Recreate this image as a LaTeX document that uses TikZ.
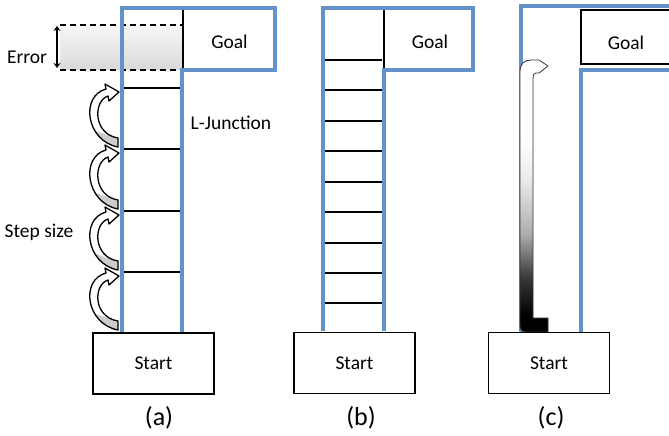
\documentclass[tikz,border=0pt]{standalone}
\usepackage{fontspec}
\setmainfont{Carlito}
\usetikzlibrary{arrows.meta}
\definecolor{corr}{RGB}{98,146,200}
\pgfdeclareverticalshading{fadebar}{100bp}{color(0bp)=(black); color(28bp)=(black); color(35bp)=(black!78); color(43bp)=(black!32); color(53bp)=(black!8); color(60bp)=(white); color(100bp)=(white)}
\newcommand\steparrow[2]{%
  \begin{scope}
    \clip (118,#2-2) .. controls (86,#2-8) and (80,#1+8) .. (106,#1+1) -- (105,#1-4) -- (119,#1+4) -- (109,#1+13) -- (108,#1+8) .. controls (93,#1+13) and (93,#2-15) .. (118,#2-11) -- cycle;
    \fill[white] (70,#1-10) rectangle (125,#2+5);
    \fill[gray!40] (75,#2+5) -- (75,#2-28) .. controls (95,#2-18) and (108,#2-12) .. (125,#2-11) -- (125,#2+5) -- cycle;
  \end{scope}
  \draw[arrowline] (118,#2-2) .. controls (86,#2-8) and (80,#1+8) .. (106,#1+1) -- (105,#1-4) -- (119,#1+4) -- (109,#1+13) -- (108,#1+8) .. controls (93,#1+13) and (93,#2-15) .. (118,#2-11) -- cycle;
}
\begin{document}
\begin{tikzpicture}[x=1pt,y=-1pt,
  corridor/.style={draw=corr,line width=4pt},
  rung/.style={draw=black,line width=1.4pt},
  boxline/.style={draw=black,line width=1.4pt},
  arrowline/.style={draw=black,line width=1.3pt,line join=round},
  startbox/.style={draw=black,line width=1.4pt,fill=white,minimum width=121pt,minimum height=61pt,inner sep=0pt,font=\fontsize{19.5}{23}\selectfont},
  lbl/.style={inner sep=0pt,font=\fontsize{19.5}{23}\selectfont},
  captext/.style={inner sep=0pt,font=\fontsize{26}{31}\selectfont}]
\useasboundingbox (0,0) rectangle (669,436);

% ---------------- panel (a) ----------------
\shade[top color=gray!6,bottom color=gray!30] (60,25) rectangle (183,70);
\draw[boxline,line width=1.6pt,dash pattern=on 6pt off 4pt] (60,25) -- (183,25);
\draw[boxline,line width=1.6pt,dash pattern=on 6pt off 4pt] (60,70) -- (183,70);
\draw[boxline] (183,9) -- (183,70);
\coordinate (errT) at (57,26);
\coordinate (errB) at (57,68);
\draw[line width=2.6pt,{Stealth[length=5pt,width=7pt]}-{Stealth[length=5pt,width=7pt]}] (errT) -- (errB);
\foreach \y in {88,149,211,272} \draw[rung] (124,\y) -- (181,\y);
\steparrow{272}{332}
\steparrow{211}{272}
\steparrow{149}{211}
\steparrow{88}{149}
\draw[corridor] (122,332) -- (122,8) -- (275,8) -- (275,70) -- (182,70) -- (182,332);
\node[startbox] (starta) at (153.5,363.5) {Start};
\node[lbl] (goala) at (229.5,42) {Goal};
\node[lbl] (error) at (27,57) {Error};
\node[lbl] (ljunc) at (231,123) {L-Junction};
\node[lbl] (stepsize) at (39,232) {Step size};
\node[captext] (capa) at (159,418) {(a)};

% ---------------- panel (b) ----------------
\draw[boxline] (384,9) -- (384,70);
\foreach \y in {60,90,121,151,182,212,243,273,303} \draw[rung] (325,\y) -- (382,\y);
\draw[corridor] (323,331) -- (323,8) -- (473,8) -- (473,70) -- (384,70) -- (384,331);
\node[startbox] (startb) at (354.5,363) {Start};
\node[lbl] (goalb) at (430,42) {Goal};
\node[captext] (capb) at (361,418) {(b)};

% ---------------- panel (c) ----------------
\draw[boxline] (675,10) -- (581,10) -- (581,64) -- (675,64);
\draw[corridor] (521,332) -- (521,6) -- (675,6);
\draw[corridor] (675,70) -- (581,70) -- (581,332);
\shade[shading=fadebar,draw=black!80,line width=0.8pt,line join=round]
  (520,325) -- (520,72) .. controls (520,64) and (524,60) .. (531,60) -- (539,60) -- (548,66) -- (539,73) -- (536,73) .. controls (534,73) and (533,75) .. (533,78) -- (533,318) -- (548,318) -- (548,332) -- (527,332) .. controls (522,332) and (520,330) .. (520,325) -- cycle;
\node[startbox] (startc) at (549,363) {Start};
\node[lbl] (goalc) at (626,43) {Goal};
\node[captext] (capc) at (551,418) {(c)};
\end{tikzpicture}
\end{document}
